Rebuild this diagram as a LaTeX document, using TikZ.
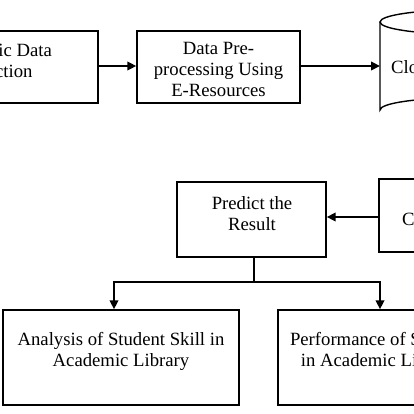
\documentclass[tikz,border=0pt]{standalone}
\usepackage{fontspec}
\setmainfont{Liberation Serif}
\usetikzlibrary{arrows.meta}
\begin{document}
\begin{tikzpicture}[x=1pt,y=-1pt,
  boxst/.style={draw=black,line width=1.4pt,rectangle,inner sep=0pt},
  txt/.style={align=center,font=\fontsize{18.7}{21}\selectfont,inner sep=0pt},
  arr/.style={line width=2.2pt,-{Triangle[length=9pt,width=8.5pt]}},
  ln/.style={line width=2.2pt}]
\useasboundingbox (0,0) rectangle (414,414);
\fill[white] (0,0) rectangle (414,414);
\clip (0,0) rectangle (414,414);
% top row
\node[boxst,minimum width=213pt,minimum height=72pt] (b1) at (-8.5,67) {};
\node[txt] (t1) at (-6.5,60.5) {Electronic Data\\Collection};
\node[boxst,minimum width=163pt,minimum height=72pt] (b2) at (218.5,67) {};
\node[txt] (t2) at (218.5,69.5) {Data Pre-\\processing Using\\E-Resources};
% cylinder
\coordinate (cl) at (380,66);
\draw[line width=1.4pt,fill=white] (380,22) -- (380,110) arc[start angle=180,end angle=360,x radius=80,y radius=12] -- (540,22);
\draw[line width=1.4pt] (460,22) ellipse[x radius=80,y radius=12];
\node[txt,anchor=west] (t3) at (391,67) {Cloud};
\draw[arr] (b1.east |- 0,66) -- (b2.west |- 0,66);
\draw[arr] (b2.east |- 0,66) -- (cl);
% middle row
\node[boxst,minimum width=149pt,minimum height=75pt] (pr) at (251.5,219.5) {};
\node[txt] (t4) at (252,213.5) {Predict the\\Result};
\node[boxst,minimum width=150pt,minimum height=73pt] (bc) at (454,215.5) {};
\node[txt,anchor=west] (t5) at (402,219.5) {Classification};
\draw[arr] (bc.west |- 0,217) -- (pr.east |- 0,217);
% bottom row
\node[boxst,minimum width=236pt,minimum height=95pt] (bl) at (121,357.5) {};
\node[txt] (t6) at (121,351) {Analysis of Student Skill in\\Academic Library};
\node[boxst,minimum width=230pt,minimum height=95pt] (br) at (393,357.5) {};
\node[txt] (t7) at (378.8,351) {Performance of Student\\in Academic Library};
\coordinate (jn) at (254,282);
\draw[ln] (pr.south -| jn) -- (jn);
\draw[arr] (jn) -- (114,282) -- (bl.north -| 114,0);
\draw[arr] (jn) -- (380,282) -- (br.north -| 380,0);
\end{tikzpicture}
\end{document}
